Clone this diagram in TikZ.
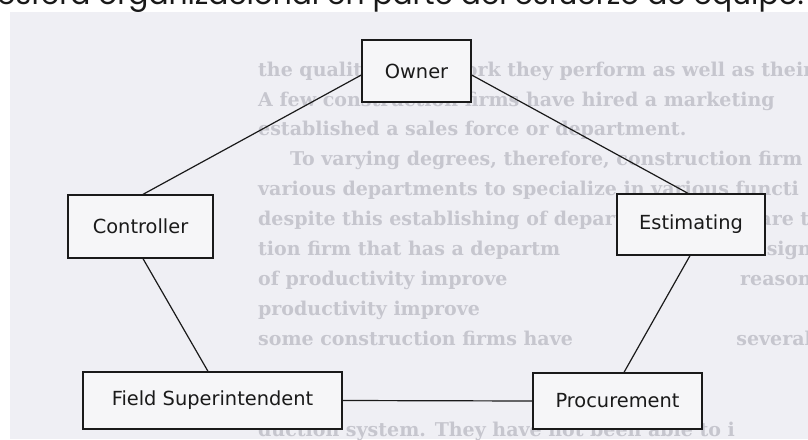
\documentclass[tikz,border=0pt]{standalone}
\usepackage{fontspec}
\setmainfont{DejaVu Sans}
\newfontfamily\labelfont{DejaVu Sans}
\newfontfamily\headfont{Poppins}
\newfontfamily\pagefont{DejaVu Serif}
\definecolor{paper}{HTML}{EFEFF4}
\definecolor{boxfill}{HTML}{F6F6F8}
\definecolor{ink}{HTML}{1A1A1A}
\definecolor{faint}{HTML}{C6C6CE}
\begin{document}
\begin{tikzpicture}[x=1pt,y=-1pt,
  unit/.style={draw=ink, fill=boxfill, line width=1.3pt, inner sep=0pt,
    font=\labelfont\fontsize{19.4}{22}\selectfont, text=ink},
  link/.style={draw=ink, line width=1.2pt},
  pageline/.style={anchor=base west, inner sep=0pt, text=faint,
    font=\pagefont\bfseries\fontsize{19}{22}\selectfont},
  pagetail/.style={pageline, anchor=base east}]
\useasboundingbox (0,0) rectangle (808,439);

% scanned page behind the chart
\begin{scope}
  \clip (0,0) rectangle (808,439);
  \fill[white] (0,0) rectangle (808,439);
  \fill[paper] (10,12) rectangle (808,439);
  \node[anchor=base west, inner sep=0pt, text=black!90,
    font=\headfont\fontsize{29.7}{30}\selectfont] (head) at (-3,4.5)
    {esfera organizacional en parte del esfuerzo de equipo.};
  \node[pageline] (p1) at (258,76) {the quality of the work they perform as well as their};
  \node[pageline] (p2) at (258,106) {A few construction firms have hired a marketing};
  \node[pageline] (p3) at (258,135) {established a sales force or department.};
  \node[pageline] (p4) at (290,165) {To varying degrees, therefore, construction firm};
  \node[pageline] (p5) at (258,195) {various departments to specialize in various functi};
  \node[pageline] (p6) at (258,225) {despite this establishing of departments, it is rare t};
  \node[pageline] (p7) at (258,255) {tion firm that has a departm};
  \node[pagetail] (p7b) at (812,255) {assign};
  \node[pageline] (p8) at (258,285) {of productivity improve};
  \node[pagetail] (p8b) at (812,285) {reason};
  \node[pageline] (p9) at (258,315) {productivity improve};
  \node[pageline] (p10) at (258,345) {some construction firms have};
  \node[pagetail] (p10b) at (812,345) {several};
  \node[pageline] (p11) at (258,436) {duction system. They have not been able to i};
\end{scope}

% organisation chart
\node[unit, minimum width=109pt, minimum height=62pt] (owner) at (416.5,71) {Owner};
\node[unit, minimum width=145pt, minimum height=63pt] (ctrl) at (140.5,226.5) {Controller};
\node[unit, minimum width=148pt, minimum height=61pt] (est) at (691,224.5) {Estimating};
\node[unit, minimum width=259pt, minimum height=57pt] (fs) at (212.5,400.5) {Field Superintendent};
\node[unit, minimum width=169pt, minimum height=56pt] (proc) at (617.5,401) {Procurement};

\draw[link] ([yshift=-4pt]owner.west) -- ([xshift=2.5pt]ctrl.north);
\draw[link] ([yshift=-4pt]owner.east) -- ([xshift=-3pt]est.north);
\draw[link] ([xshift=2.5pt]ctrl.south) -- ([xshift=-4.5pt]fs.north);
\draw[link] ([xshift=-1pt]est.south) -- ([xshift=6.5pt]proc.north);
\draw[link] (fs.east) -- (proc.west);
\end{tikzpicture}
\end{document}
